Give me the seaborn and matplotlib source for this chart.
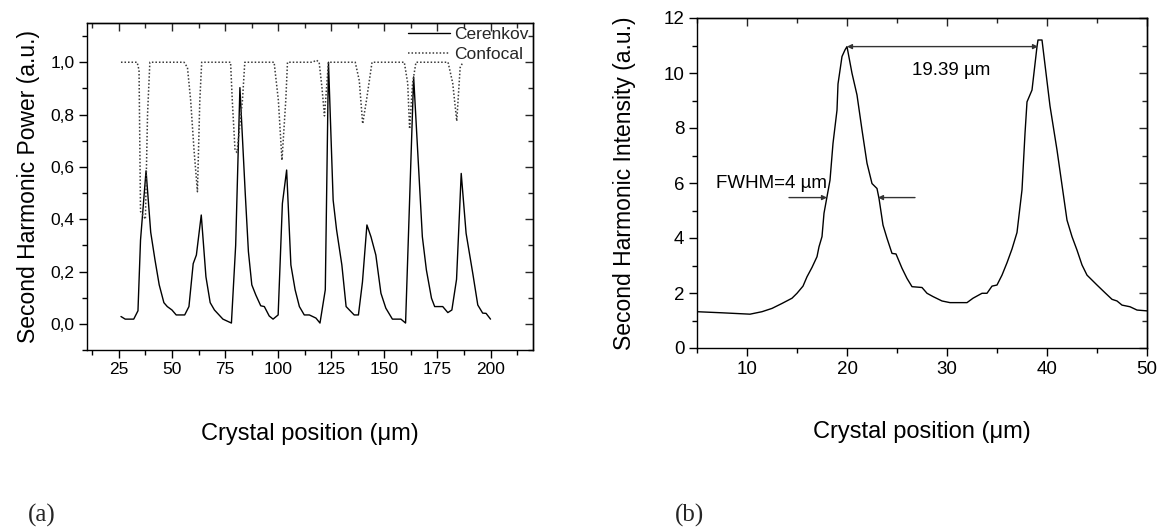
import matplotlib
matplotlib.use("Agg")
import matplotlib.pyplot as plt
from matplotlib import font_manager
from matplotlib.ticker import FuncFormatter
import seaborn as sns
import pandas as pd
import numpy as np

# ---------------- data ----------------
cer_x = [26, 28, 32, 34, 35.2, 37.8, 40, 42, 44, 46.2, 47.8, 50, 52, 56, 58, 60, 61.5, 63.8, 66, 68,
         70, 74, 78, 80, 82, 84.5, 86, 87.6, 89.5, 91.8, 93.5, 95.8, 97.6, 100, 102, 104, 106, 108, 110,
         112.3, 114.7, 117.8, 119.7, 122.2, 123.7, 125.9, 127.5, 130, 132, 135.8, 137.8, 139.7, 141.8,
         143.7, 146, 148.4, 150.7, 153.8, 157.8, 160, 163.8, 167.9, 169.8, 172.2, 173.7, 177.5, 179.9,
         181.8, 184, 186.2, 188.5, 191.7, 194, 196.3, 197.9, 200]
cer_y = [0.028, 0.018, 0.018, 0.05, 0.32, 0.585, 0.35, 0.245, 0.149, 0.081, 0.066, 0.053, 0.034, 0.034,
         0.066, 0.23, 0.263, 0.416, 0.18, 0.081, 0.053, 0.018, 0.003, 0.3, 0.903, 0.5, 0.276, 0.149, 0.11,
         0.069, 0.066, 0.03, 0.018, 0.034, 0.46, 0.588, 0.225, 0.13, 0.066, 0.034, 0.034, 0.022, 0.003,
         0.13, 1.0, 0.473, 0.36, 0.225, 0.066, 0.034, 0.034, 0.16, 0.378, 0.333, 0.263, 0.117, 0.06,
         0.018, 0.018, 0.003, 0.944, 0.333, 0.206, 0.098, 0.066, 0.066, 0.043, 0.053, 0.17, 0.575,
         0.346, 0.19, 0.072, 0.041, 0.04, 0.018]

conf_x = [26, 33.6, 34.5, 35.2, 37.5, 38.5, 39.6,
          55.7, 57.3, 58.8, 60.4, 62, 63.1, 64,
          77.6, 78.4, 79.7, 80.6, 83.2, 84.3,
          98.1, 100.1, 101.8, 103.6, 104.4,
          116.2, 118, 119.3, 120.6, 121.8, 123.7,
          136.3, 138.2, 139.8, 141.6, 144.2,
          159.4, 161, 161.9, 163.3, 164.9,
          180, 182.2, 184.1, 185.7, 187]
conf_y = [1.0, 1.0, 0.97, 0.43, 0.40, 0.80, 1.0,
          1.0, 0.98, 0.855, 0.664, 0.505, 0.85, 1.0,
          1.0, 0.855, 0.664, 0.655, 0.855, 1.0,
          1.0, 0.855, 0.625, 0.855, 1.0,
          1.0, 1.008, 1.0, 0.906, 0.795, 1.0,
          1.0, 0.93, 0.765, 0.855, 1.0,
          1.0, 0.92, 0.745, 0.92, 1.0,
          1.0, 0.92, 0.775, 0.98, 1.0]

b_x = [5, 7.5, 10.3, 11.5, 12.5, 13.5, 14.5, 15, 15.6, 16, 16.5, 17, 17.2, 17.5, 17.7, 18, 18.3, 18.6,
       19, 19.1, 19.5, 19.8, 20, 20.5, 21, 21.5, 22, 22.5, 23, 23.2, 23.6, 24, 24.5, 24.9, 25.5, 26,
       26.5, 27.5, 28, 28.6, 29.5, 30.3, 32, 32.6, 33.5, 34, 34.5, 35, 35.5, 36, 36.5, 37, 37.5, 37.8,
       38, 38.5, 39, 39.1, 39.5, 40, 40.3, 41, 42, 42.5, 43, 43.5, 44, 45, 45.8, 46.5, 47, 47.5, 48.3,
       49, 50]
b_y = [1.32, 1.28, 1.23, 1.32, 1.44, 1.62, 1.81, 1.99, 2.25, 2.59, 2.93, 3.32, 3.68, 4.05, 4.9, 5.5,
       6.1, 7.44, 8.65, 9.6, 10.6, 10.84, 10.96, 9.99, 9.2, 7.93, 6.72, 5.98, 5.8, 5.44, 4.47, 3.99,
       3.44, 3.42, 2.9, 2.53, 2.23, 2.2, 1.99, 1.87, 1.71, 1.65, 1.65, 1.81, 1.99, 1.99, 2.25, 2.29,
       2.65, 3.1, 3.6, 4.2, 5.75, 7.8, 8.95, 9.38, 10.96, 11.2, 11.2, 9.7, 8.8, 7.2, 4.65, 4.05, 3.56,
       3.02, 2.65, 2.29, 2.01, 1.77, 1.71, 1.56, 1.5, 1.38, 1.35]

series_names = ["Cerenkov", "Confocal"]
a_xticks = [25, 50, 75, 100, 125, 150, 175, 200]
a_yticks = [0.0, 0.2, 0.4, 0.6, 0.8, 1.0]
b_xticks = [10, 20, 30, 40, 50]
b_yticks = [0, 2, 4, 6, 8, 10, 12]

peak1_x, peak2_x, peak_y = 20.0, 39.1, 10.96
fwhm_left, fwhm_right, fwhm_y = 18.0, 23.1, 5.47

# ---------------- style ----------------
sns.set_theme(style="ticks")
plt.rcParams["font.family"] = ["Liberation Sans", "DejaVu Sans"]
plt.rcParams["axes.linewidth"] = 1.0
plt.rcParams["mathtext.default"] = "regular"


def has_font(name):
    try:
        font_manager.findfont(name, fallback_to_default=False)
        return True
    except Exception:
        return False


narrow = "Liberation Sans Narrow" if has_font("Liberation Sans Narrow") else "Liberation Sans"

W, H = 1161, 532
fig = plt.figure(figsize=(W / 100, H / 100), dpi=100)
ax1 = fig.add_axes([87 / W, 1 - 350 / H, 446 / W, 327 / H])
ax2 = fig.add_axes([697 / W, 1 - 348 / H, 450 / W, 330 / H])

# ---------------- panel (a) ----------------
df_c = pd.DataFrame({"x": cer_x, "y": cer_y})
df_f = pd.DataFrame({"x": conf_x, "y": conf_y})
sns.lineplot(data=df_c, x="x", y="y", ax=ax1, color="black", lw=1.0, sort=False,
             estimator=None, label=series_names[0])
sns.lineplot(data=df_f, x="x", y="y", ax=ax1, color="#3a3a3a", lw=1.1, sort=False,
             estimator=None, linestyle=(0, (1, 1.3)), label=series_names[1])
ax1.set_xlim(10, 220)
ax1.set_ylim(-0.1, 1.15)

# ---------------- panel (b) ----------------
df_b = pd.DataFrame({"x": b_x, "y": b_y})
sns.lineplot(data=df_b, x="x", y="y", ax=ax2, color="black", lw=1.0, sort=False, estimator=None)
ax2.set_xlim(5, 50)
ax2.set_ylim(0, 12)


def style_axes(ax, xmaj, xmin, ymaj, ymin, lsize):
    ax.set_xticks(xmaj)
    ax.set_xticks(xmin, minor=True)
    ax.set_yticks(ymaj)
    ax.set_yticks(ymin, minor=True)
    ax.tick_params(which="major", direction="out", length=6, width=1, labelsize=lsize,
                   color="black", labelcolor="black", pad=3)
    ax.tick_params(which="minor", direction="out", length=3.5, width=1, color="black")
    for s in ax.spines.values():
        s.set_visible(True)
        s.set_color("black")
        s.set_linewidth(1.0)
    top = ax.secondary_xaxis("top")
    top.set_xticks(xmaj)
    top.set_xticks(xmin, minor=True)
    top.tick_params(which="major", direction="in", length=6, width=1, labeltop=False)
    top.tick_params(which="minor", direction="in", length=3.5, width=1)
    right = ax.secondary_yaxis("right")
    right.set_yticks(ymaj)
    right.set_yticks(ymin, minor=True)
    right.tick_params(which="major", direction="in", length=6, width=1, labelright=False)
    right.tick_params(which="minor", direction="in", length=3.5, width=1)


style_axes(ax1, a_xticks, [12.5 + 25 * i for i in range(9)],
           a_yticks, [-0.1 + 0.2 * i for i in range(7)], 12.5)
ax1.yaxis.set_major_formatter(FuncFormatter(lambda v, p: f"{v:.1f}".replace(".", ",")))
style_axes(ax2, b_xticks, [5, 15, 25, 35, 45], b_yticks, [1, 3, 5, 7, 9, 11], 13.5)

ax1.set_ylabel("Second Harmonic Power (a.u.)", fontsize=16.5, color="black")
ax2.set_ylabel("Second Harmonic Intensity (a.u.)", fontsize=16.5, color="black")
ax1.yaxis.set_label_coords(-0.105, 0.5)
ax2.yaxis.set_label_coords(-0.135, 0.5)

for ax, h in ((ax1, 327), (ax2, 330)):
    ax.set_xlabel("Crystal position (\u03bcm)", fontsize=17, family=[narrow, "DejaVu Sans"],
                  color="black")
    ax.xaxis.set_label_coords(0.5, -73 / h)

leg = ax1.legend(loc="upper right", bbox_to_anchor=(1.0, 1.0), frameon=False, fontsize=12.5,
                 handlelength=2.4, handletextpad=0.25, labelspacing=0.25, borderpad=0.25,
                 borderaxespad=0.0)

# annotations in panel (b)
ax2.annotate("", xy=(peak1_x, peak_y), xytext=(peak2_x, peak_y),
             arrowprops=dict(arrowstyle="<|-|>", color="#333333", lw=1.0, mutation_scale=7,
                             shrinkA=0, shrinkB=0))
ax2.text((peak1_x + peak2_x) / 2 + 0.9, 10.1, "19.39 \u00b5m", fontsize=13.5, ha="center",
         va="center", color="black")
ax2.annotate("", xy=(fwhm_left, fwhm_y), xytext=(fwhm_left - 3.8, fwhm_y),
             arrowprops=dict(arrowstyle="-|>", color="#333333", lw=1.0, mutation_scale=7,
                             shrinkA=0, shrinkB=0))
ax2.annotate("", xy=(fwhm_right, fwhm_y), xytext=(fwhm_right + 3.7, fwhm_y),
             arrowprops=dict(arrowstyle="-|>", color="#333333", lw=1.0, mutation_scale=7,
                             shrinkA=0, shrinkB=0))
ax2.text(12.45, 6.0, "FWHM=4 \u00b5m", fontsize=13.5, ha="center", va="center", color="black")

# panel labels
fig.text(28 / W, 1 - 515 / H, "(a)", fontsize=18, family=["Liberation Serif", "DejaVu Serif"],
         va="center", ha="left")
fig.text(675 / W, 1 - 515 / H, "(b)", fontsize=18, family=["Liberation Serif", "DejaVu Serif"],
         va="center", ha="left")

fig.savefig("out.png", dpi=100)
